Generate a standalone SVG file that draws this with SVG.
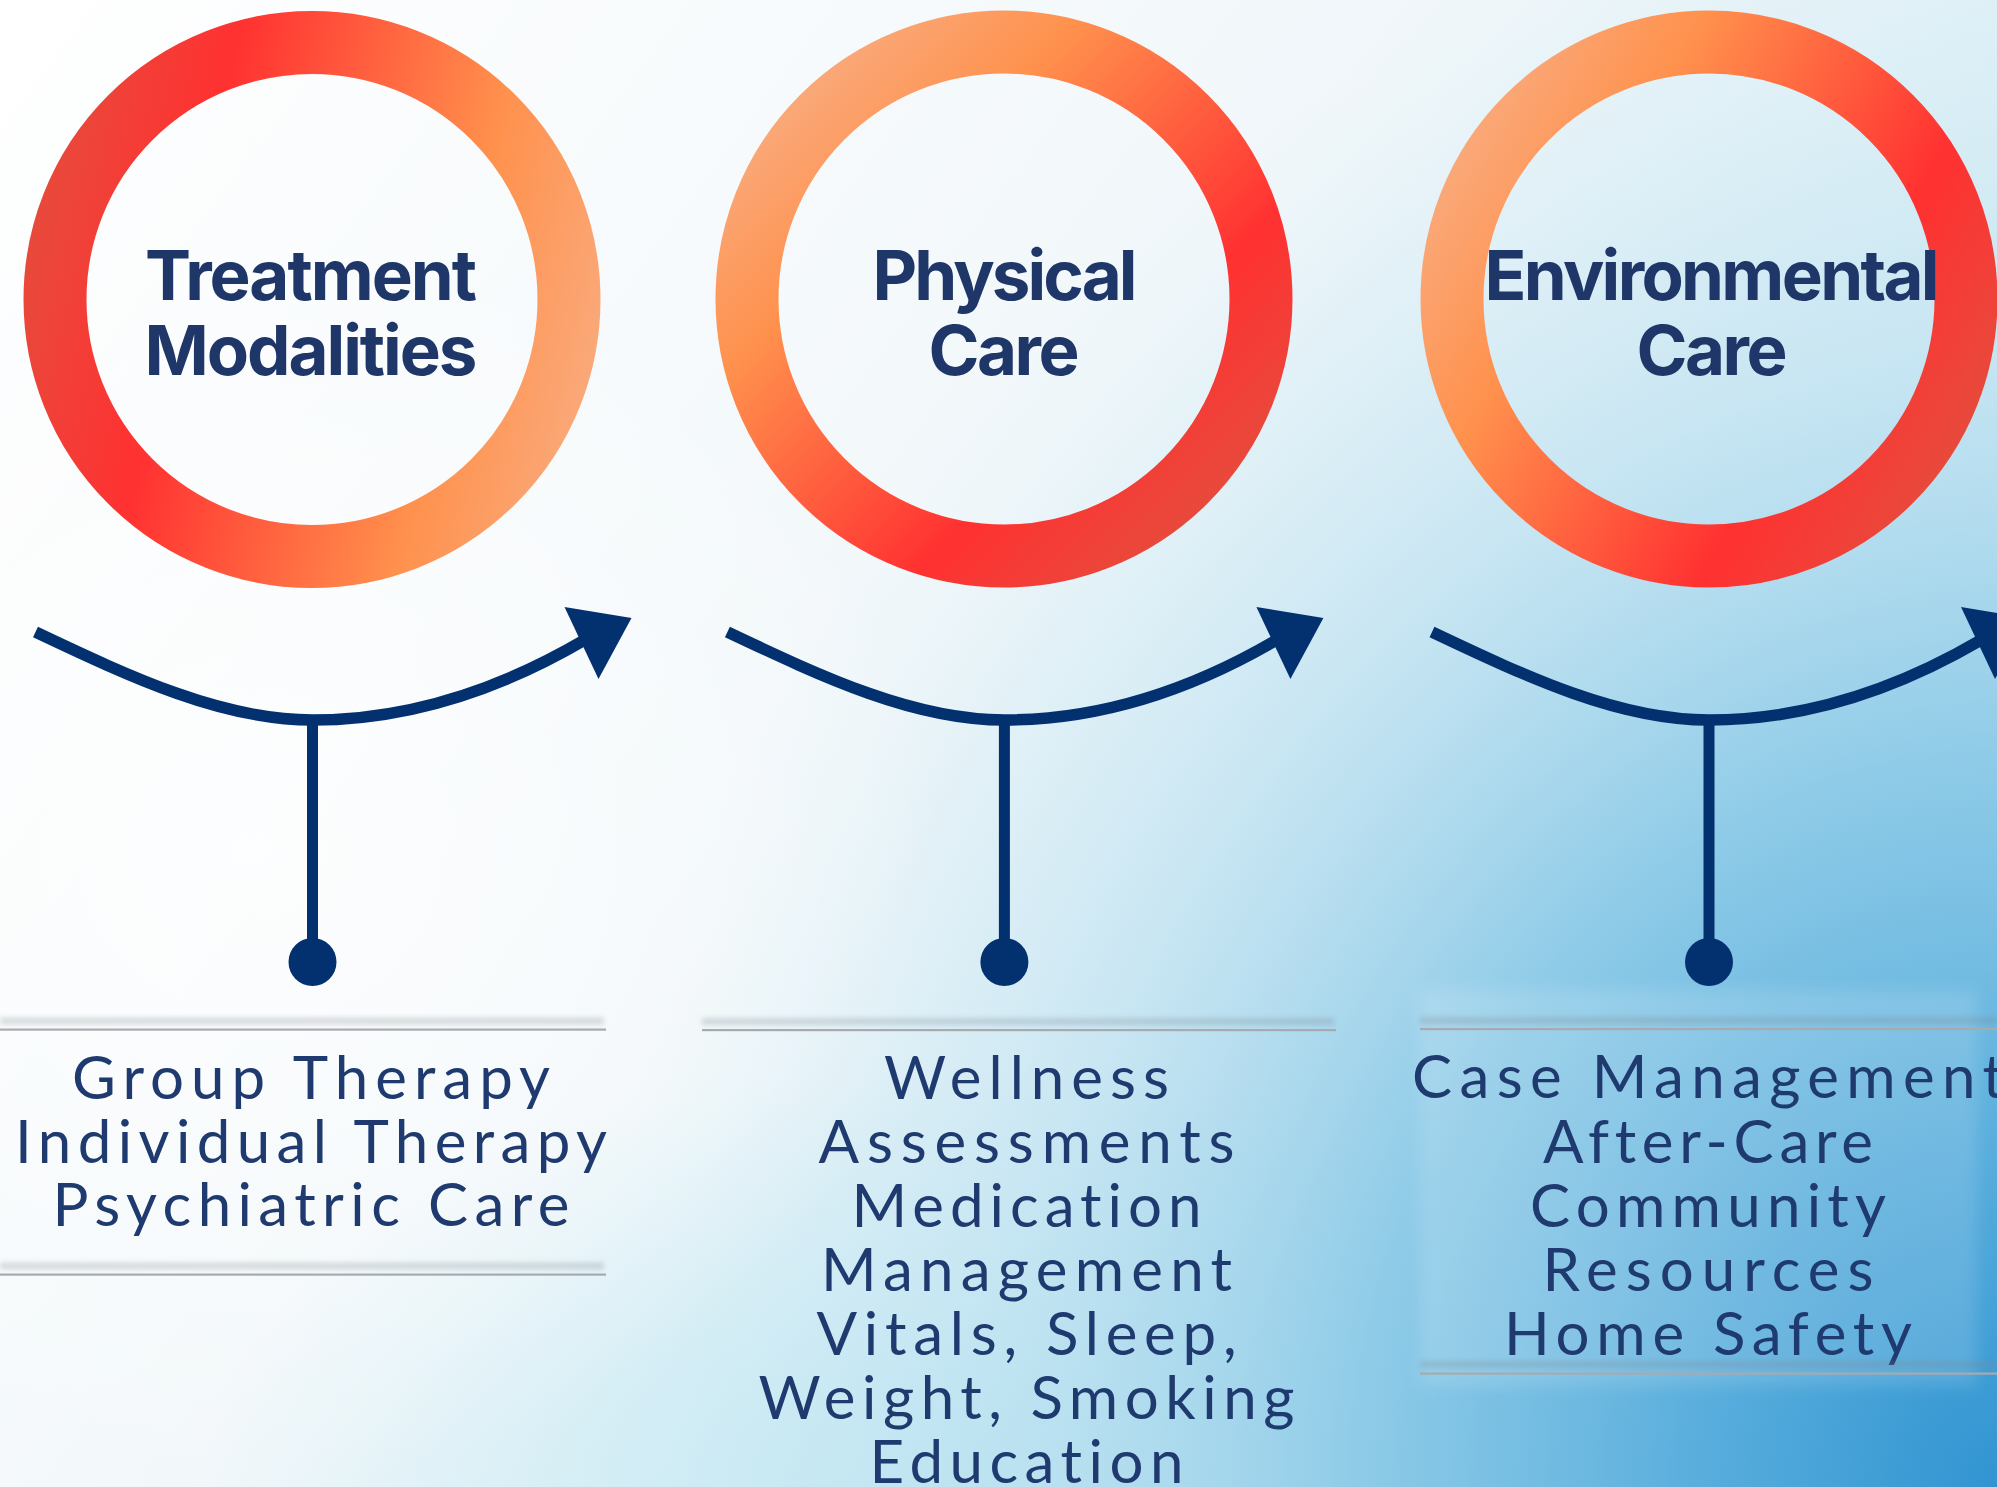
<svg xmlns="http://www.w3.org/2000/svg" width="1997" height="1487" viewBox="0 0 1997 1487">
  <defs>
    <!-- page background: white at top-left fading to sky blue at bottom-right -->
    <linearGradient id="bgBase" gradientUnits="userSpaceOnUse" x1="0" y1="0" x2="1997" y2="1487">
      <stop offset="0" stop-color="#FFFFFF"/>
      <stop offset="0.45" stop-color="#F1F7FA"/>
      <stop offset="0.7" stop-color="#DCEFF6"/>
      <stop offset="1" stop-color="#B5DEEF"/>
    </linearGradient>
    <radialGradient id="bgBlue" gradientUnits="userSpaceOnUse" cx="0" cy="0" r="1" gradientTransform="translate(1997 1487) scale(1400 1600)">
      <stop offset="0" stop-color="#3194D1" stop-opacity="1"/>
      <stop offset="0.2" stop-color="#56ACDC" stop-opacity="1"/>
      <stop offset="0.45" stop-color="#86C7E6" stop-opacity="0.9"/>
      <stop offset="0.7" stop-color="#B4DDEF" stop-opacity="0.55"/>
      <stop offset="1" stop-color="#D4ECF5" stop-opacity="0"/>
    </radialGradient>
    <radialGradient id="bgCyan" gradientUnits="userSpaceOnUse" cx="0" cy="0" r="1" gradientTransform="translate(950 1487) scale(750 420)">
      <stop offset="0" stop-color="#BCE6F2" stop-opacity="0.85"/>
      <stop offset="1" stop-color="#BCE6F2" stop-opacity="0"/>
    </radialGradient>
    <radialGradient id="bgGlow" gradientUnits="userSpaceOnUse" cx="0" cy="0" r="1" gradientTransform="translate(250 850) scale(700 650)">
      <stop offset="0" stop-color="#FFFFFF" stop-opacity="0.75"/>
      <stop offset="1" stop-color="#FFFFFF" stop-opacity="0"/>
    </radialGradient>

    <!-- ring gradients: peach -> orange -> red -> deep red, each at its own angle -->
    <linearGradient id="ringTreatment" gradientUnits="userSpaceOnUse" x1="592.8" y1="363.7" x2="31.2" y2="235.3">
      <stop offset="0" stop-color="#FAA878"/>
      <stop offset="0.25" stop-color="#FF914D"/>
      <stop offset="0.73" stop-color="#FF3131"/>
      <stop offset="1" stop-color="#E8493B"/>
    </linearGradient>
    <linearGradient id="ringPhysical" gradientUnits="userSpaceOnUse" x1="800.4" y1="95.4" x2="1207.6" y2="502.6">
      <stop offset="0" stop-color="#FAA878"/>
      <stop offset="0.25" stop-color="#FF914D"/>
      <stop offset="0.73" stop-color="#FF3131"/>
      <stop offset="1" stop-color="#E8493B"/>
    </linearGradient>
    <linearGradient id="ringEnvironmental" gradientUnits="userSpaceOnUse" x1="1458.7" y1="156.4" x2="1959.3" y2="441.6">
      <stop offset="0" stop-color="#FAA878"/>
      <stop offset="0.25" stop-color="#FF914D"/>
      <stop offset="0.73" stop-color="#FF3131"/>
      <stop offset="1" stop-color="#E8493B"/>
    </linearGradient>

    <filter id="softShadow" x="-5%" y="-300%" width="110%" height="700%">
      <feGaussianBlur stdDeviation="2.5"/>
    </filter>
    <filter id="panelBlur" x="-10%" y="-10%" width="120%" height="120%">
      <feGaussianBlur stdDeviation="8"/>
    </filter>

    <!-- shared connector: swoosh arrow with a stem ending in a dot -->
    <g id="arrowShape">
      <path class="swoosh" d="M -277 632 C -180 678 -90 720 0 720 C 100 720 190 688 272 640"/>
      <polygon class="navy" points="319,618 252,607 286,679"/>
      <line class="stem" x1="0" y1="720" x2="0" y2="962"/>
      <circle class="navy" cx="0" cy="962" r="24"/>
    </g>

    <!-- separator: thin grey rule with a soft shadow above it -->
    <g id="sepShort">
      <rect class="sepShadow" x="0" y="-12" width="604" height="7" filter="url(#softShadow)"/>
      <rect class="sepLine" x="0" y="-1" width="606" height="2.2"/>
    </g>
  </defs>

  <style>
    .ring { fill: none; stroke-width: 63; }
    .head { font-family: Inter, "Liberation Sans", sans-serif; font-weight: 700; font-size: 69px; fill: #1F3668; text-anchor: middle; }
    .item { font-family: Lato, "Liberation Sans", sans-serif; font-size: 60px; fill: #1F3A6E; text-anchor: middle; font-variant-ligatures: none; font-feature-settings: "liga" 0, "clig" 0; }
    .swoosh { fill: none; stroke: #03316F; stroke-width: 11.5; }
    .stem { stroke: #03316F; stroke-width: 11; }
    .navy { fill: #03316F; }
    .sepLine { fill: #A7AAAE; }
    .sepShadow { fill: #7C8890; opacity: 0.28; }
    .panel { fill: #FFFFFF; opacity: 0.14; }
  </style>

  <!-- background -->
  <rect x="0" y="0" width="1997" height="1487" fill="url(#bgBase)"/>
  <rect x="0" y="0" width="1997" height="1487" fill="url(#bgCyan)"/>
  <rect x="0" y="0" width="1997" height="1487" fill="url(#bgBlue)"/>
  <rect x="0" y="0" width="1997" height="1487" fill="url(#bgGlow)"/>
  <!-- frosted panel behind the right-hand list -->
  <rect class="panel" x="1420" y="990" width="557" height="395" filter="url(#panelBlur)"/>

  <!-- nodes -->
  <g id="node-treatment">
    <circle class="ring" cx="312" cy="299.5" r="257" stroke="url(#ringTreatment)"/>
    <text class="head" x="311" y="299.5" textLength="332" lengthAdjust="spacing">Treatment</text>
    <text class="head" x="311" y="374.5" textLength="333" lengthAdjust="spacing">Modalities</text>
  </g>

  <g id="node-physical">
    <circle class="ring" cx="1004" cy="299" r="257" stroke="url(#ringPhysical)"/>
    <text class="head" x="1005" y="299.5" textLength="265" lengthAdjust="spacing">Physical</text>
    <text class="head" x="1004" y="374.5" textLength="151" lengthAdjust="spacing">Care</text>
  </g>

  <g id="node-environmental">
    <circle class="ring" cx="1709" cy="299" r="257" stroke="url(#ringEnvironmental)"/>
    <text class="head" x="1712" y="299.5" textLength="455" lengthAdjust="spacing">Environmental</text>
    <text class="head" x="1712" y="374.5" textLength="151" lengthAdjust="spacing">Care</text>
  </g>

  <!-- connectors -->
  <g id="connectors">
    <use href="#arrowShape" x="312.5"/>
    <use href="#arrowShape" x="1004.4"/>
    <use href="#arrowShape" x="1709"/>
  </g>

  <!-- service lists -->
  <g id="list-treatment">
    <use href="#sepShort" x="0" y="1029.5"/>
    <text class="item" x="311" y="1099" textLength="478" lengthAdjust="spacing">Group Therapy</text>
    <text class="item" x="311" y="1162.6" textLength="592" lengthAdjust="spacing">Individual Therapy</text>
    <text class="item" x="311" y="1226" textLength="517" lengthAdjust="spacing">Psychiatric Care</text>
    <use href="#sepShort" x="0" y="1274.5"/>
  </g>

  <g id="list-physical">
    <rect class="sepShadow" x="702" y="1018" width="632" height="7" filter="url(#softShadow)"/>
    <rect class="sepLine" x="702" y="1029" width="634" height="2.2"/>
    <text class="item" x="1026.5" y="1099" textLength="285" lengthAdjust="spacing">Wellness</text>
    <text class="item" x="1026.5" y="1162.7" textLength="416" lengthAdjust="spacing">Assessments</text>
    <text class="item" x="1026.5" y="1226.7" textLength="350" lengthAdjust="spacing">Medication</text>
    <text class="item" x="1026.5" y="1290.7" textLength="411" lengthAdjust="spacing">Management</text>
    <text class="item" x="1026.5" y="1355" textLength="420" lengthAdjust="spacing">Vitals, Sleep,</text>
    <text class="item" x="1026.5" y="1419.3" textLength="536" lengthAdjust="spacing">Weight, Smoking</text>
    <text class="item" x="1026.5" y="1483.3" textLength="314" lengthAdjust="spacing">Education</text>
  </g>

  <g id="list-environmental">
    <rect class="sepShadow" x="1420" y="1017" width="577" height="7" filter="url(#softShadow)"/>
    <rect class="sepLine" x="1420" y="1028" width="577" height="2.2"/>
    <text class="item" x="1708" y="1098" textLength="592" lengthAdjust="spacing">Case Management</text>
    <text class="item" x="1708" y="1162.5" textLength="330" lengthAdjust="spacing">After-Care</text>
    <text class="item" x="1708" y="1226.5" textLength="356" lengthAdjust="spacing">Community</text>
    <text class="item" x="1708" y="1290.5" textLength="331" lengthAdjust="spacing">Resources</text>
    <text class="item" x="1708" y="1355" textLength="408" lengthAdjust="spacing">Home Safety</text>
    <rect class="sepShadow" x="1420" y="1361" width="577" height="7" filter="url(#softShadow)"/>
    <rect class="sepLine" x="1420" y="1372.5" width="577" height="2.2"/>
  </g>
</svg>
